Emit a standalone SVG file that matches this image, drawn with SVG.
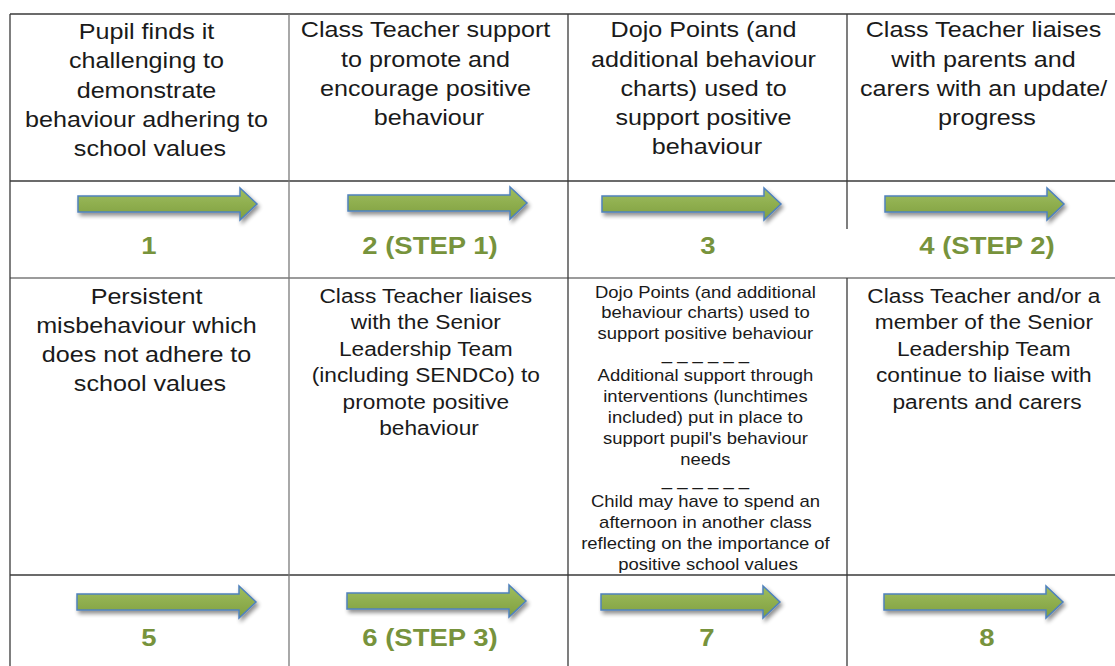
<svg xmlns="http://www.w3.org/2000/svg" width="1115" height="666" viewBox="0 0 1115 666">
  <style>
    .grid { stroke: #3a3a3a; stroke-width: 1.3; fill: none; }
    .grid-soft { stroke: #7a7a7a; stroke-width: 1.3; fill: none; }
    .txt { font-family: "Liberation Sans", Arial, sans-serif; fill: #1a1a1a; text-anchor: middle; }
    .big { font-size: 21.5px; }
    .mid { font-size: 19.4px; }
    .small { font-size: 15.8px; }
    .num { font-family: "Liberation Sans", Arial, sans-serif; font-weight: bold; font-size: 23.5px; fill: #77933c; text-anchor: middle; }
    .arrow { fill: url(#arrowFill); stroke: #4f81bd; stroke-width: 1.5; filter: url(#shadow); }
  </style>
  <defs>
    <linearGradient id="arrowFill" x1="0" y1="0" x2="0" y2="1">
      <stop offset="0" stop-color="#9fbe5e"/>
      <stop offset="1" stop-color="#7f9f40"/>
    </linearGradient>
    <filter id="shadow" x="-10%" y="-50%" width="125%" height="220%">
      <feGaussianBlur in="SourceAlpha" stdDeviation="2"/>
      <feOffset dx="2" dy="3" result="blur"/>
      <feComponentTransfer><feFuncA type="linear" slope="0.45"/></feComponentTransfer>
      <feMerge><feMergeNode/><feMergeNode in="SourceGraphic"/></feMerge>
    </filter>
    <path id="arrowShape" d="M0,-8 H162 V-16 L179,0 L162,16 V8 H0 Z"/>
  </defs>

  <rect width="1115" height="666" fill="#ffffff"/>

  <!-- table grid -->
  <g id="grid">
    <line class="grid" x1="10" y1="14" x2="1115" y2="14"/>
    <line class="grid" x1="10" y1="181" x2="1115" y2="181"/>
    <line class="grid-soft" x1="10" y1="278" x2="1115" y2="278"/>
    <line class="grid" x1="10" y1="575" x2="1115" y2="575"/>
    <line class="grid" x1="10" y1="14" x2="10" y2="666"/>
    <line class="grid-soft" x1="289" y1="14" x2="289" y2="666"/>
    <line class="grid" x1="568" y1="14" x2="568" y2="666"/>
    <line class="grid" x1="847" y1="14" x2="847" y2="229"/>
    <line class="grid" x1="847" y1="278" x2="847" y2="666"/>
  </g>

  <!-- stage 1 -->
  <g id="stage1">
    <text class="txt big" transform="translate(150,39) scale(1.17,1)">
      <tspan x="0">Pupil finds it</tspan>
      <tspan x="0" dy="29.3">challenging to</tspan>
      <tspan x="0" dy="29.3">demonstrate</tspan>
      <tspan x="0" dy="29.3">behaviour adhering to</tspan>
      <tspan x="0" dy="29.3">school values</tspan>
    </text>
    <text class="num" transform="translate(149,254) scale(1.17,1)">1</text>
  </g>

  <!-- stage 2 -->
  <g id="stage2">
    <text class="txt big" transform="translate(429,37.3) scale(1.17,1)">
      <tspan x="0">Class Teacher support</tspan>
      <tspan x="0" dy="29.3">to promote and</tspan>
      <tspan x="0" dy="29.3">encourage positive</tspan>
      <tspan x="0" dy="29.3">behaviour</tspan>
    </text>
    <text class="num" transform="translate(430,254) scale(1.17,1)">2 (STEP 1)</text>
  </g>

  <!-- stage 3 -->
  <g id="stage3">
    <text class="txt big" transform="translate(707,37.3) scale(1.17,1)">
      <tspan x="0">Dojo Points (and</tspan>
      <tspan x="0" dy="29.3">additional behaviour</tspan>
      <tspan x="0" dy="29.3">charts) used to</tspan>
      <tspan x="0" dy="29.3">support positive</tspan>
      <tspan x="0" dy="29.3">behaviour</tspan>
    </text>
    <text class="num" transform="translate(708,254) scale(1.17,1)">3</text>
  </g>

  <!-- stage 4 -->
  <g id="stage4">
    <text class="txt big" transform="translate(987,37.3) scale(1.17,1)">
      <tspan x="0">Class Teacher liaises</tspan>
      <tspan x="0" dy="29.3">with parents and</tspan>
      <tspan x="0" dy="29.3">carers with an update/</tspan>
      <tspan x="0" dy="29.3">progress</tspan>
    </text>
    <text class="num" transform="translate(987,254) scale(1.17,1)">4 (STEP 2)</text>
  </g>

  <!-- stage 5 -->
  <g id="stage5">
    <text class="txt big" transform="translate(150,304) scale(1.17,1)">
      <tspan x="0">Persistent</tspan>
      <tspan x="0" dy="29">misbehaviour which</tspan>
      <tspan x="0" dy="29">does not adhere to</tspan>
      <tspan x="0" dy="29">school values</tspan>
    </text>
    <text class="num" transform="translate(149,646) scale(1.17,1)">5</text>
  </g>

  <!-- stage 6 -->
  <g id="stage6">
    <text class="txt mid" transform="translate(429,303) scale(1.17,1)">
      <tspan x="0">Class Teacher liaises</tspan>
      <tspan x="0" dy="26.5">with the Senior</tspan>
      <tspan x="0" dy="26.5">Leadership Team</tspan>
      <tspan x="0" dy="26.5">(including SENDCo) to</tspan>
      <tspan x="0" dy="26.5">promote positive</tspan>
      <tspan x="0" dy="26.5">behaviour</tspan>
    </text>
    <text class="num" transform="translate(430,646) scale(1.17,1)">6 (STEP 3)</text>
  </g>

  <!-- stage 7 -->
  <g id="stage7">
    <text class="txt small" transform="translate(708,297.5) scale(1.17,1)">
      <tspan x="0">Dojo Points (and additional</tspan>
      <tspan x="0" dy="21">behaviour charts) used to</tspan>
      <tspan x="0" dy="21">support positive behaviour</tspan>
      <tspan x="0" dy="21">_ _ _ _ _ _</tspan>
      <tspan x="0" dy="21">Additional support through</tspan>
      <tspan x="0" dy="21">interventions (lunchtimes</tspan>
      <tspan x="0" dy="21">included) put in place to</tspan>
      <tspan x="0" dy="21">support pupil's behaviour</tspan>
      <tspan x="0" dy="21">needs</tspan>
      <tspan x="0" dy="21">_ _ _ _ _ _</tspan>
      <tspan x="0" dy="21">Child may have to spend an</tspan>
      <tspan x="0" dy="21">afternoon in another class</tspan>
      <tspan x="0" dy="21">reflecting on the importance of</tspan>
      <tspan x="0" dy="21">positive school values</tspan>
    </text>
    <text class="num" transform="translate(707,646) scale(1.17,1)">7</text>
  </g>

  <!-- stage 8 -->
  <g id="stage8">
    <text class="txt mid" transform="translate(987,303) scale(1.17,1)">
      <tspan x="0">Class Teacher and/or a</tspan>
      <tspan x="0" dy="26.5">member of the Senior</tspan>
      <tspan x="0" dy="26.5">Leadership Team</tspan>
      <tspan x="0" dy="26.5">continue to liaise with</tspan>
      <tspan x="0" dy="26.5">parents and carers</tspan>
    </text>
    <text class="num" transform="translate(987,646) scale(1.17,1)">8</text>
  </g>

  <!-- progression arrows -->
  <g id="connectors">
    <use href="#arrowShape" class="arrow" transform="translate(78,204)"/>
    <use href="#arrowShape" class="arrow" transform="translate(348,203)"/>
    <use href="#arrowShape" class="arrow" transform="translate(602,204)"/>
    <use href="#arrowShape" class="arrow" transform="translate(885,204)"/>
    <use href="#arrowShape" class="arrow" transform="translate(77,602)"/>
    <use href="#arrowShape" class="arrow" transform="translate(347,601)"/>
    <use href="#arrowShape" class="arrow" transform="translate(601,602)"/>
    <use href="#arrowShape" class="arrow" transform="translate(884,602)"/>
  </g>
</svg>
